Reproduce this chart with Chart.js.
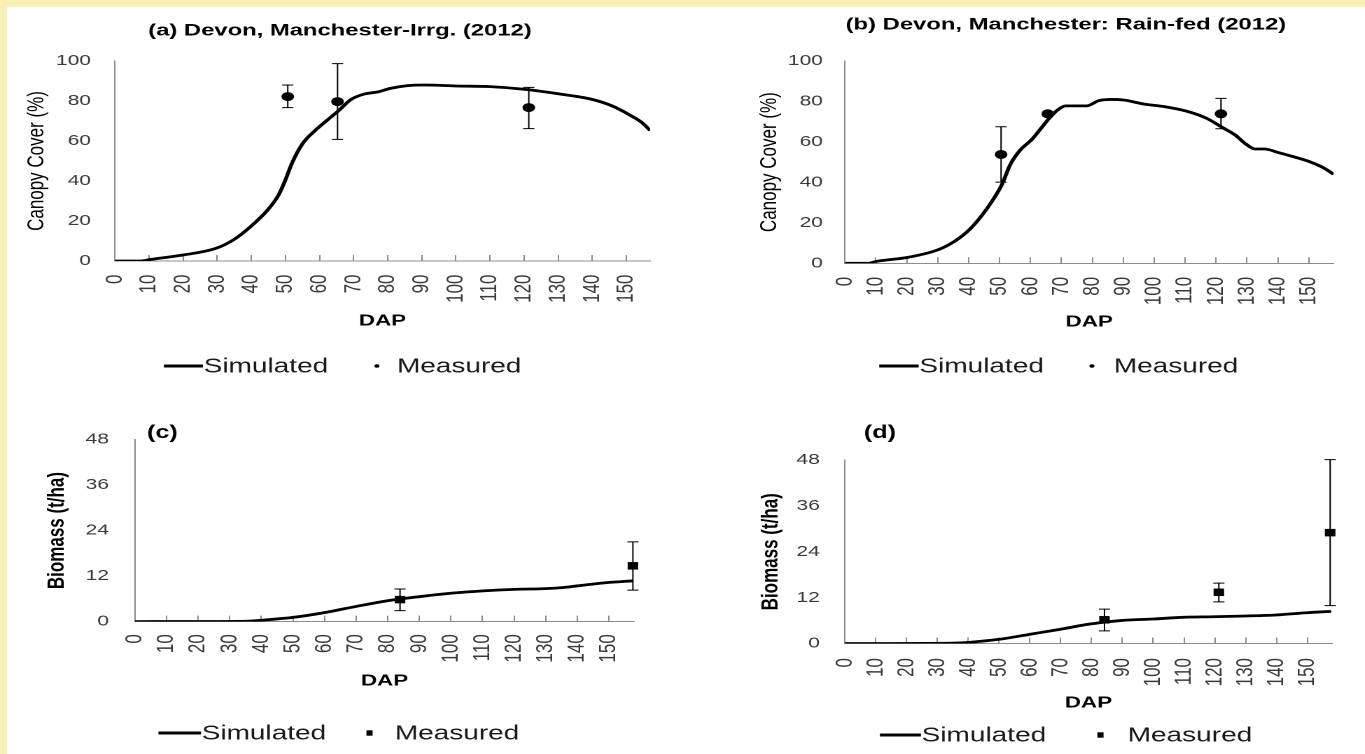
<!DOCTYPE html>
<html>
<head>
<meta charset="utf-8">
<title>Devon, Manchester 2012</title>
<script src="https://cdn.jsdelivr.net/npm/chart.js@4/dist/chart.umd.min.js"></script>
<style>
  html, body { margin: 0; width: 1365px; height: 754px; overflow: hidden; background: #fbf0b3; }
  #hoja { position: absolute; left: 7px; top: 7px; right: 0; bottom: 0; background: #fff; }
  canvas { position: absolute; }
</style>
</head>
<body>
<div id="hoja"></div>
<canvas id="grafico-a" width="488" height="377" style="left:0;top:0;width:683.2px;height:377px"></canvas>
<canvas id="grafico-b" width="487" height="377" style="left:683.2px;top:0;width:681.8px;height:377px"></canvas>
<canvas id="grafico-c" width="488" height="377" style="left:0;top:377px;width:683.2px;height:377px"></canvas>
<canvas id="grafico-d" width="487" height="377" style="left:683.2px;top:377px;width:681.8px;height:377px"></canvas>
<script>
// Marcas de los ejes
const marcasDap = [0, 10, 20, 30, 40, 50, 60, 70, 80, 90, 100, 110, 120, 130, 140, 150];
const marcasCobertura = [0, 20, 40, 60, 80, 100];
const marcasBiomasa = [0, 12, 24, 36, 48];

// (a) Riego: cobertura simulada (DAP, %)
const diasSimA = [0, 7.6, 10.5, 20, 29.6, 34.7, 39.8, 44.8, 48, 50, 51.9, 55.1, 58.9, 62.9, 65.5, 69.3, 73.2, 77, 80.8, 85.9, 91, 100, 110, 120.3, 130.5, 139.5, 145.9, 151, 154.9, 157];
const coberturaSimA = [0, 0, 0.8, 3, 6.3, 10.5, 17.2, 25.5, 33, 40.5, 48.8, 58.8, 65.5, 71.3, 75, 80.8, 83.5, 84.5, 86.3, 87.7, 88, 87.5, 87.2, 85.8, 83.5, 81, 77.5, 73, 68.8, 65.2];
// (a) medidos con su rango
const diasMedA = [50.7, 65.3, 121.4];
const coberturaMedA = [82.2, 79.7, 76.7];
const coberturaMinA = [76.7, 60.8, 66.2];
const coberturaMaxA = [88, 98.7, 86.8];

// (b) Secano: cobertura simulada
const diasSimB = [0, 7.8, 9.8, 20.6, 30, 35.3, 40.7, 46, 50.7, 53.4, 56.7, 60.5, 63.4, 66.1, 68.8, 71.4, 78.1, 82.1, 86.1, 90.1, 96.8, 103.5, 110.2, 116.9, 122.2, 126.2, 129.6, 132.7, 135.6, 140.3, 145, 150.3, 155, 158];
const coberturaSimB = [0, 0, 0.8, 3, 6.6, 10.7, 17.3, 27.2, 38.7, 48.6, 56, 61.3, 66.7, 71.7, 75.8, 77.8, 77.8, 80.4, 81, 80.7, 78.7, 77.4, 75.3, 71.7, 67, 63.4, 59, 56.5, 56.5, 54.7, 52.7, 50.2, 47, 44];
const diasMedB = [50.5, 65.6, 121.6];
const coberturaMedB = [53.8, 73.9, 73.9];
const coberturaMinB = [40.1, 72.8, 66.5];
const coberturaMaxB = [67.5, 74.8, 81.5];

// (c) Riego: biomasa (t/ha)
const diasSimC = [0, 35, 40.7, 50, 60.2, 70, 80, 90.3, 100.3, 110.2, 120.1, 130, 135.7, 139.9, 149.8, 157.6];
const biomasaSimC = [0, 0.1, 0.4, 1.1, 2.4, 4, 5.5, 6.6, 7.5, 8.1, 8.5, 8.7, 9, 9.4, 10.3, 10.75];
const diasMedC = [83.9, 157.6];
const biomasaMedC = [5.8, 14.7];
const biomasaMinC = [2.9, 8.3];
const biomasaMaxC = [8.6, 21];

// (d) Secano: biomasa (t/ha)
const diasSimD = [0, 35, 40.3, 50.1, 59.9, 69.7, 79.5, 89.4, 99.9, 109.7, 119.5, 130, 139.8, 149.7, 157.7];
const biomasaSimD = [0, 0.1, 0.3, 1.1, 2.4, 3.7, 5.1, 6, 6.4, 6.85, 7, 7.2, 7.45, 8.05, 8.4];
const diasMedD = [84.2, 121.3, 157.4];
const biomasaMedD = [6.2, 13.4, 29];
const biomasaMinD = [3.3, 10.9, 9.9];
const biomasaMaxD = [9, 15.8, 48.1];

const FUENTE = "'Liberation Sans', Arial, sans-serif";
const GRIS_EJE = '#8c8c8c';
const COLOR_TEXTO = '#3a3a3a';

// Une dos listas en puntos {x, y}
const aPuntos = (xs, ys) => xs.map((x, i) => ({ x, y: ys[i] }));

// Barras de error verticales de los datos medidos
const barrasError = {
  id: 'barrasError',
  afterDatasetsDraw(chart) {
    const { ctx, scales: { x, y } } = chart;
    ctx.save();
    ctx.strokeStyle = '#000';
    ctx.lineWidth = 1;
    chart.data.datasets.forEach(ds => {
      if (!ds.errMin) return;
      ds.data.forEach((p, i) => {
        const px = x.getPixelForValue(p.x);
        const yMin = y.getPixelForValue(ds.errMin[i]);
        const yMax = y.getPixelForValue(ds.errMax[i]);
        ctx.beginPath();
        ctx.moveTo(px, yMin); ctx.lineTo(px, yMax);
        ctx.moveTo(px - 4, yMin); ctx.lineTo(px + 4, yMin);
        ctx.moveTo(px - 4, yMax); ctx.lineTo(px + 4, yMax);
        ctx.stroke();
      });
    });
    ctx.restore();
  }
};

// Titulo del panel y leyenda inferior
const textosPanel = {
  id: 'textosPanel',
  afterDraw(chart, args, opts) {
    const ctx = chart.ctx;
    const t = opts.titulo;
    const l = opts.leyenda;
    ctx.save();
    ctx.fillStyle = '#000';
    ctx.textBaseline = 'middle';
    ctx.font = `bold ${t.size}px ${FUENTE}`;
    ctx.textAlign = t.align;
    ctx.fillText(t.texto, t.x, t.y);

    ctx.strokeStyle = '#000';
    ctx.lineWidth = 3;
    ctx.beginPath();
    ctx.moveTo(l.lineaX0, l.y);
    ctx.lineTo(l.lineaX1, l.y);
    ctx.stroke();
    ctx.fillStyle = '#1a1a1a';
    ctx.font = `20px ${FUENTE}`;
    ctx.textAlign = 'left';
    ctx.fillText('Simulated', l.lineaX1 + 0.5, l.y + 1);
    ctx.fillStyle = '#000';
    ctx.beginPath();
    if (l.marca === 'rect') ctx.rect(l.marcaX - 2.2, l.y - 2.7, 4.4, 5.4);
    else ctx.arc(l.marcaX, l.y, 1.8, 0, Math.PI * 2);
    ctx.fill();
    ctx.fillStyle = '#1a1a1a';
    ctx.fillText('Measured', l.medidoX, l.y + 1);
    ctx.restore();
  }
};

const crearGrafico = (idCanvas, p) => new Chart(document.getElementById(idCanvas), {
  type: 'line',
  data: {
    datasets: [
      {
        label: 'Simulated',
        data: aPuntos(p.diasSim, p.valoresSim),
        borderColor: '#000',
        borderWidth: 2.8,
        pointRadius: 0,
        cubicInterpolationMode: 'monotone',
        fill: false,
        order: 1
      },
      {
        label: 'Measured',
        data: aPuntos(p.diasMed, p.valoresMed),
        errMin: p.minMed,
        errMax: p.maxMed,
        showLine: false,
        pointStyle: p.marca,
        pointRadius: p.radio,
        backgroundColor: '#000',
        borderColor: '#000',
        borderWidth: 0,
        clip: false,
        order: 0
      }
    ]
  },
  options: {
    responsive: false,
    animation: false,
    devicePixelRatio: 2,
    events: [],
    layout: { padding: { top: p.areaTop, right: p.padDer, left: 0, bottom: 0 } },
    plugins: {
      legend: { display: false },
      tooltip: { enabled: false },
      textosPanel: p.textos
    },
    scales: {
      x: {
        type: 'linear',
        min: 0,
        max: p.xMax,
        afterBuildTicks: s => { s.ticks = marcasDap.map(v => ({ value: v })); },
        afterFit: s => { s.height = p.altoX; },
        ticks: {
          minRotation: 90,
          maxRotation: 90,
          autoSkip: false,
          padding: p.padTickX,
          color: COLOR_TEXTO,
          font: { family: FUENTE, size: 17 }
        },
        grid: { drawOnChartArea: false, tickLength: -6, color: GRIS_EJE },
        border: { color: GRIS_EJE, width: 1 },
        title: {
          display: true,
          text: 'DAP',
          color: '#000',
          font: { family: FUENTE, size: 16, weight: 'bold' },
          padding: { top: 0, bottom: p.padTituloX }
        }
      },
      y: {
        min: 0,
        max: p.yMax,
        afterBuildTicks: s => { s.ticks = p.marcasY.map(v => ({ value: v })); },
        afterFit: s => { s.width = p.anchoY; },
        ticks: {
          padding: p.padTickY,
          color: COLOR_TEXTO,
          font: { family: FUENTE, size: 15 }
        },
        grid: { display: false, drawTicks: false },
        border: { color: GRIS_EJE, width: 1 },
        title: {
          display: true,
          text: p.tituloY,
          color: '#000',
          font: { family: FUENTE, size: 17, weight: p.pesoTituloY },
          padding: { top: p.padTituloY, bottom: 0 }
        }
      }
    }
  },
  plugins: [barrasError, textosPanel]
});

crearGrafico('grafico-a', {
  diasSim: diasSimA, valoresSim: coberturaSimA,
  diasMed: diasMedA, valoresMed: coberturaMedA, minMed: coberturaMinA, maxMed: coberturaMaxA,
  marca: 'circle', radio: 4.5,
  xMax: 157, yMax: 100, marcasY: marcasCobertura,
  areaTop: 61, padDer: 13.7, anchoY: 82.1, altoX: 116,
  padTickX: 19.5, padTickY: 17.1, padTituloX: 46.4,
  tituloY: 'Canopy Cover (%)', pesoTituloY: 'normal', padTituloY: 16.2,
  textos: {
    titulo: { texto: '(a) Devon, Manchester-Irrg. (2012)', x: 242.9, y: 30.7, align: 'center', size: 17 },
    leyenda: { y: 366, lineaX0: 117.1, lineaX1: 145, marcaX: 269.3, medidoX: 283.6, marca: 'circle' }
  }
});

crearGrafico('grafico-b', {
  diasSim: diasSimB, valoresSim: coberturaSimB,
  diasMed: diasMedB, valoresMed: coberturaMedB, minMed: coberturaMinB, maxMed: coberturaMaxB,
  marca: 'circle', radio: 4.5,
  xMax: 158, yMax: 100, marcasY: marcasCobertura,
  areaTop: 61, padDer: 2.1, anchoY: 115.6, altoX: 113.7,
  padTickX: 19.5, padTickY: 15.7, padTituloX: 45.4,
  tituloY: 'Canopy Cover (%)', pesoTituloY: 'normal', padTituloY: 51.8,
  textos: {
    titulo: { texto: '(b) Devon, Manchester: Rain-fed (2012)', x: 273.4, y: 25, align: 'center', size: 17 },
    leyenda: { y: 366, lineaX0: 140.1, lineaX1: 168.3, marcaX: 292, medidoX: 307.6, marca: 'circle' }
  }
});

crearGrafico('grafico-c', {
  diasSim: diasSimC, valoresSim: biomasaSimC,
  diasMed: diasMedC, valoresMed: biomasaMedC, minMed: biomasaMinC, maxMed: biomasaMaxC,
  marca: 'rect', radio: 5.3,
  xMax: 158, yMax: 48, marcasY: marcasBiomasa,
  areaTop: 62.5, padDer: 34.9, anchoY: 96.4, altoX: 132.4,
  padTickX: 18.6, padTickY: 18.6, padTituloX: 63.4,
  tituloY: 'Biomass (t/ha)', pesoTituloY: 'bold', padTituloY: 30.5,
  textos: {
    titulo: { texto: '(c)', x: 105, y: 56, align: 'left', size: 18 },
    leyenda: { y: 356, lineaX0: 113.2, lineaX1: 143.6, marcaX: 264, medidoX: 282.1, marca: 'rect' }
  }
});

crearGrafico('grafico-d', {
  diasSim: diasSimD, valoresSim: biomasaSimD,
  diasMed: diasMedD, valoresMed: biomasaMedD, minMed: biomasaMinD, maxMed: biomasaMaxD,
  marca: 'rect', radio: 5.3,
  xMax: 158, yMax: 48, marcasY: marcasBiomasa,
  areaTop: 83, padDer: 5.7, anchoY: 115.6, altoX: 110.5,
  padTickX: 20.5, padTickY: 17.9, padTituloX: 41.4,
  tituloY: 'Biomass (t/ha)', pesoTituloY: 'bold', padTituloY: 52.8,
  textos: {
    titulo: { texto: '(d)', x: 129.1, y: 56, align: 'left', size: 18 },
    leyenda: { y: 358, lineaX0: 140.6, lineaX1: 169.9, marcaX: 298.1, medidoX: 317.5, marca: 'rect' }
  }
});
</script>
</body>
</html>
